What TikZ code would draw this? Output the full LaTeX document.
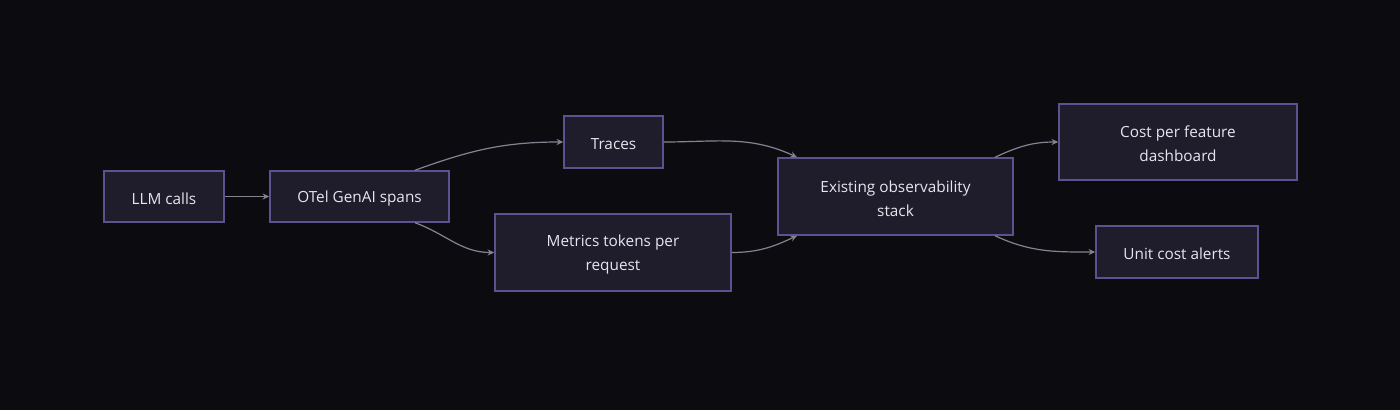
\documentclass[tikz,border=0pt]{standalone}
\usepackage{fontspec}
\setmainfont{Open Sans}
\usetikzlibrary{arrows.meta,calc}
\definecolor{bg}{HTML}{0C0B10}
\definecolor{boxfill}{HTML}{1F1C2C}
\definecolor{boxline}{HTML}{5E5190}
\definecolor{txt}{HTML}{E6E6EE}
\definecolor{edge}{HTML}{85838F}
\tikzset{
  box/.style={draw=boxline, fill=boxfill, line width=1.1pt, inner sep=0pt},
  boxtext/.style={text=txt, align=center, inner sep=0pt, yshift=-1.6pt,
    font=\fontsize{11.5}{18}\selectfont},
  flow/.style={draw=edge, line width=0.9pt, -{Stealth[length=5pt,width=4.5pt]}}
}
\begin{document}
\begin{tikzpicture}[x=0.75pt,y=-0.75pt]
\fill[bg] (0,0) rectangle (1400,410);
\useasboundingbox (0,0) rectangle (1400,410);
\node[box, minimum width=120*0.75pt, minimum height=51*0.75pt,
  label={[boxtext]center:LLM calls}] (llm) at (164,196.5) {};
\node[box, minimum width=179*0.75pt, minimum height=51*0.75pt,
  label={[boxtext]center:OTel GenAI spans}] (otel) at (359.5,196.5) {};
\node[box, minimum width=99*0.75pt, minimum height=52*0.75pt,
  label={[boxtext]center:Traces}] (traces) at (613.5,142) {};
\node[box, minimum width=236*0.75pt, minimum height=77*0.75pt,
  label={[boxtext]center:Metrics tokens per\\request}] (metrics) at (613,252.5) {};
\node[box, minimum width=235*0.75pt, minimum height=77*0.75pt,
  label={[boxtext]center:Existing observability\\stack}] (stack) at (895.5,196.5) {};
\node[box, minimum width=238*0.75pt, minimum height=76*0.75pt,
  label={[boxtext]center:Cost per feature\\dashboard}] (cost) at (1178,142) {};
\node[box, minimum width=162*0.75pt, minimum height=52*0.75pt,
  label={[boxtext]center:Unit cost alerts}] (unit) at (1177,252) {};
\draw[flow] (llm) -- (otel);
\draw[flow] ([xshift=55.5*0.75pt]otel.north) to[out=20,in=180] (traces.west);
\draw[flow] ([xshift=55.5*0.75pt]otel.south) to[out=-20,in=180] (metrics.west);
\draw[flow] (traces.east) to[out=0,in=155] ([xshift=-98.5*0.75pt]stack.north);
\draw[flow] (metrics.east) to[out=0,in=205] ([xshift=-98.5*0.75pt]stack.south);
\draw[flow] ([xshift=99.5*0.75pt]stack.north) to[out=25,in=180] (cost.west);
\draw[flow] ([xshift=99.5*0.75pt]stack.south) to[out=-25,in=180] (unit.west);
\end{tikzpicture}
\end{document}
